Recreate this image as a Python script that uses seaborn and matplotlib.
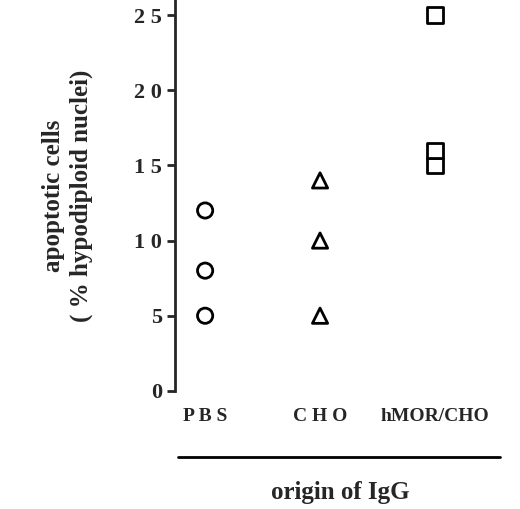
import matplotlib
matplotlib.use("Agg")
import matplotlib.pyplot as plt
import seaborn as sns
import pandas as pd

groups = ["PBS", "CHO", "hMOR/CHO"]
group_labels = ["P B S", "C H O", "hMOR/CHO"]
pbs = [5, 8, 12]
cho = [5, 10, 14]
hmor = [15, 16, 25]
markers = {"PBS": "o", "CHO": "^", "hMOR/CHO": "s"}

rows = []
for g, vals in zip(groups, [pbs, cho, hmor]):
    for v in vals:
        rows.append({"group": g, "pos": groups.index(g), "value": v})
df = pd.DataFrame(rows)

sns.set_style("ticks")
plt.rcParams["font.family"] = ["Liberation Serif", "DejaVu Serif"]
plt.rcParams["font.weight"] = "bold"

fig = plt.figure(figsize=(5.2, 5.09), dpi=100)
ax = fig.add_axes([0.337, 0.232, 0.663, 0.768])

sns.scatterplot(data=df, x="pos", y="value", style="group", markers=markers,
                s=120, facecolor="white", edgecolor="black", linewidth=2,
                legend=False, ax=ax)

ax.set_xlim(-0.26, 2.74)
ax.set_ylim(0, 26)
ax.set_yticks([0, 5, 10, 15, 20, 25])
ax.set_yticklabels([" ".join(str(t)) for t in [0, 5, 10, 15, 20, 25]],
                   fontsize=16, fontweight="bold")
ax.set_xticks([0, 1, 2])
ax.set_xticklabels(group_labels, fontsize=14, fontweight="bold")
ax.tick_params(axis="x", length=0, pad=12)
ax.tick_params(axis="y", width=2, length=6)
sns.despine(ax=ax, top=True, right=True, bottom=True)
ax.spines["left"].set_linewidth(2)
ax.set_xlabel("")
ax.set_ylabel("apoptotic cells\n( % hypodiploid nuclei)", fontsize=18,
              fontweight="bold", labelpad=30, linespacing=1.2)

fig.add_artist(plt.Line2D([178 / 520, 500 / 520], [1 - 457 / 509, 1 - 457 / 509],
                          color="black", linewidth=2))
fig.text(340 / 520, 1 - 493 / 509, "origin of IgG", ha="center", va="center",
         fontsize=18, fontweight="bold")

fig.savefig("out.png", dpi=100)
